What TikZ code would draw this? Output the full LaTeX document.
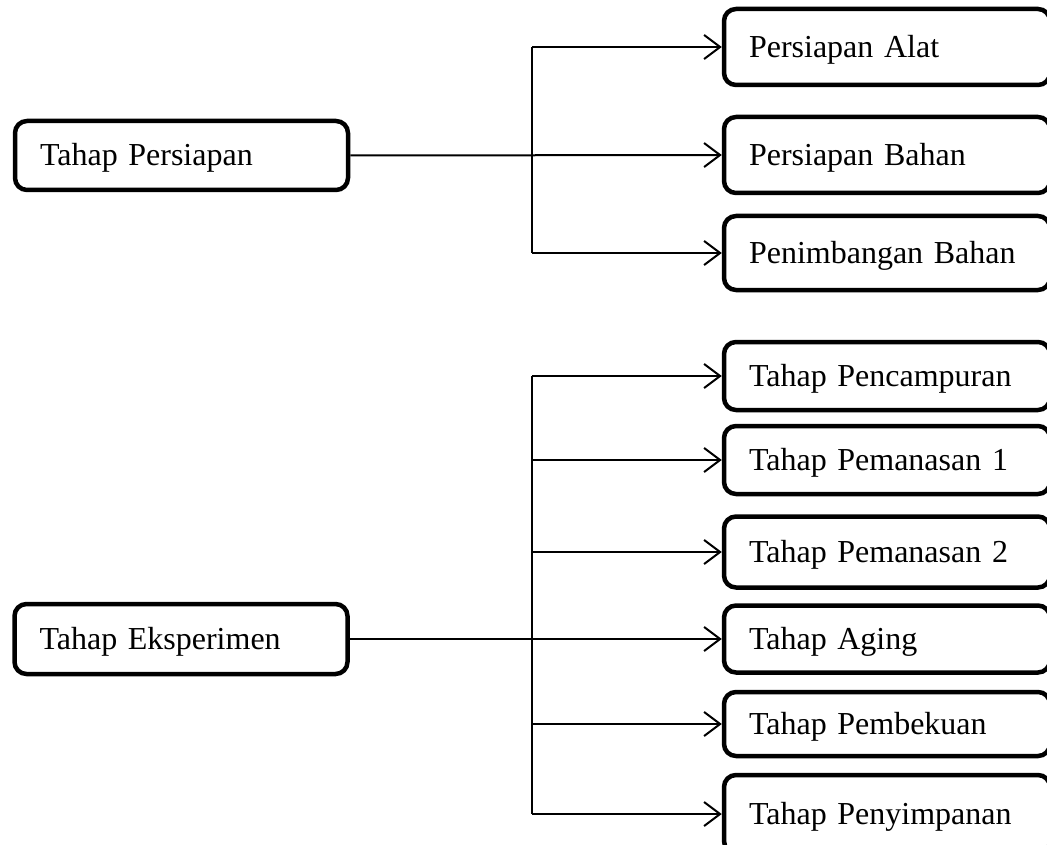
\documentclass[tikz,border=0pt]{standalone}
\usepackage{fontspec}
\setmainfont{Liberation Serif}
\usetikzlibrary{arrows.meta}
\tikzset{
  box/.style={draw, line width=4.5pt, rounded corners=12pt, align=left,
    inner xsep=0pt, inner ysep=0pt, font=\fontsize{32}{36}\selectfont,
    text height=21pt, text depth=0pt},
  leftbox/.style={box, minimum width=333pt, text width=283pt},
  rightbox/.style={box, minimum width=326pt, text width=276pt},
  conn/.style={line width=2pt, -{Straight Barb[length=16pt,width=24pt,line width=2pt]}},
  bus/.style={line width=2pt}
}
\begin{document}
\begin{tikzpicture}[x=1pt,y=-1pt]
\useasboundingbox (0,0) rectangle (1047,845);
\clip (0,0) rectangle (1047,845);
% left boxes
\node[leftbox, minimum height=69pt] (prep) at (181.5,155.5) {Tahap Persiapan};
\node[leftbox, minimum height=70pt] (exp) at (181,639) {Tahap Eksperimen};
% right boxes, upper group
\node[rightbox, minimum height=76pt] (alat) at (887,47) {Persiapan Alat};
\node[rightbox, minimum height=76pt] (bahan) at (887,155) {Persiapan Bahan};
\node[rightbox, minimum height=74pt] (timbang) at (887,253) {Penimbangan Bahan};
% right boxes, lower group
\node[rightbox, minimum height=68pt] (campur) at (887,376) {Tahap Pencampuran};
\node[rightbox, minimum height=68pt] (panas1) at (887,460) {Tahap Pemanasan 1};
\node[rightbox, minimum height=71pt] (panas2) at (887,552) {Tahap Pemanasan 2};
\node[rightbox, minimum height=67pt] (aging) at (887,639) {Tahap Aging};
\node[rightbox, minimum height=64pt] (beku) at (887,724) {Tahap Pembekuan};
\node[rightbox, minimum height=78pt] (simpan) at (887,814) {Tahap Penyimpanan};
% junction columns
\coordinate (j1) at (532,155);
\coordinate (j2) at (532,639);
% upper connectors
\draw[bus] (j1 |- alat.west) -- (j1 |- timbang.west);
\draw[conn] (prep.east) -- (bahan.west);
\draw[conn] (j1 |- alat.west) -- (alat.west);
\draw[conn] (j1 |- timbang.west) -- (timbang.west);
% lower connectors
\draw[bus] (j2 |- campur.west) -- (j2 |- simpan.west);
\draw[conn] (exp.east) -- (aging.west);
\draw[conn] (j2 |- campur.west) -- (campur.west);
\draw[conn] (j2 |- panas1.west) -- (panas1.west);
\draw[conn] (j2 |- panas2.west) -- (panas2.west);
\draw[conn] (j2 |- beku.west) -- (beku.west);
\draw[conn] (j2 |- simpan.west) -- (simpan.west);
\end{tikzpicture}
\end{document}
